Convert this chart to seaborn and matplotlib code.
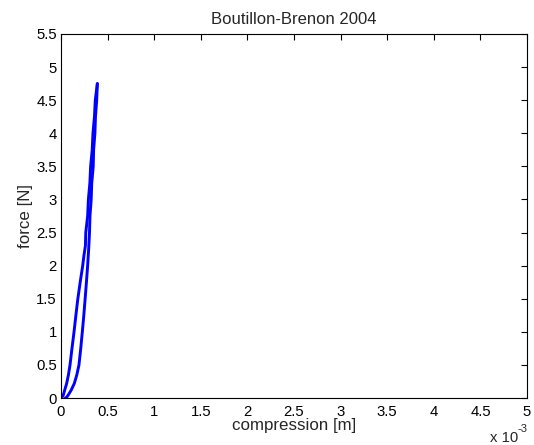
import matplotlib
matplotlib.use("Agg")
import matplotlib.pyplot as plt
import matplotlib.ticker as mticker
import pandas as pd
import seaborn as sns

# Loading branch (compression in m, force in N)
load_x = [0.045e-3, 0.06e-3, 0.078e-3, 0.11e-3, 0.143e-3, 0.17e-3, 0.193e-3, 0.212e-3,
          0.229e-3, 0.245e-3, 0.258e-3, 0.273e-3, 0.286e-3, 0.297e-3, 0.306e-3, 0.311e-3,
          0.324e-3, 0.330e-3, 0.346e-3, 0.350e-3, 0.364e-3, 0.370e-3, 0.383e-3, 0.39e-3]
load_f = [0.0, 0.01, 0.045, 0.12, 0.22, 0.35, 0.50, 0.75,
          1.00, 1.25, 1.48, 1.75, 2.00, 2.25, 2.50, 2.75,
          3.00, 3.25, 3.50, 3.75, 4.00, 4.25, 4.50, 4.75]

# Unloading branch
unload_x = [0.39e-3, 0.368e-3, 0.359e-3, 0.343e-3, 0.335e-3, 0.318e-3, 0.310e-3, 0.294e-3,
            0.286e-3, 0.266e-3, 0.262e-3, 0.246e-3, 0.233e-3, 0.206e-3, 0.179e-3, 0.16e-3,
            0.140e-3, 0.118e-3, 0.097e-3, 0.080e-3, 0.061e-3, 0.04e-3, 0.025e-3, 0.01e-3, 0.0]
unload_f = [4.75, 4.50, 4.25, 4.00, 3.75, 3.50, 3.25, 3.00,
            2.75, 2.50, 2.30, 2.15, 2.00, 1.75, 1.48, 1.25,
            1.00, 0.75, 0.50, 0.35, 0.22, 0.12, 0.045, 0.01, 0.0]

x_ticks = [0, 0.5e-3, 1e-3, 1.5e-3, 2e-3, 2.5e-3, 3e-3, 3.5e-3, 4e-3, 4.5e-3, 5e-3]
y_ticks = [0, 0.5, 1, 1.5, 2, 2.5, 3, 3.5, 4, 4.5, 5, 5.5]

df = pd.concat([
    pd.DataFrame({"compression": load_x, "force": load_f, "branch": "load"}),
    pd.DataFrame({"compression": unload_x, "force": unload_f, "branch": "unload"}),
], ignore_index=True)

sns.set_style("white")
plt.rcParams["font.family"] = ["Liberation Sans", "DejaVu Sans"]

fig = plt.figure(figsize=(5.34, 4.45), dpi=100)
ax = fig.add_axes([0.1142, 0.1056, 0.8728, 0.818])

sns.lineplot(data=df, x="compression", y="force", units="branch", estimator=None,
             sort=False, color="#0000ff", linewidth=2.1, ax=ax)

ax.set_xlim(0, 5e-3)
ax.set_ylim(0, 5.5)
ax.set_xticks(x_ticks)
ax.set_yticks(y_ticks)
ax.xaxis.set_major_formatter(mticker.FuncFormatter(lambda v, p: f"{v * 1e3:g}"))
ax.yaxis.set_major_formatter(mticker.FuncFormatter(lambda v, p: f"{v:g}"))
ax.tick_params(direction="in", top=True, right=True, length=4, width=0.8,
               labelsize=10.7, colors="black")
ax.tick_params(axis="x", pad=5)
ax.tick_params(axis="y", pad=3)
for s in ax.spines.values():
    s.set_visible(True)
    s.set_color("black")
    s.set_linewidth(0.8)

ax.set_xlabel("compression [m]", fontsize=12.2, labelpad=-1)
ax.set_ylabel("force [N]", fontsize=12.2, labelpad=2)
ax.set_title("Boutillon-Brenon 2004", fontsize=12, pad=7)

# axis multiplier below the right end of the x axis
fig.text(490 / 534, 1 - 442 / 445, "x 10", fontsize=10.7, ha="left", va="baseline")
fig.text(517 / 534, 1 - 432 / 445, "-3", fontsize=8, ha="left", va="baseline")

fig.savefig("out.png", dpi=100)
